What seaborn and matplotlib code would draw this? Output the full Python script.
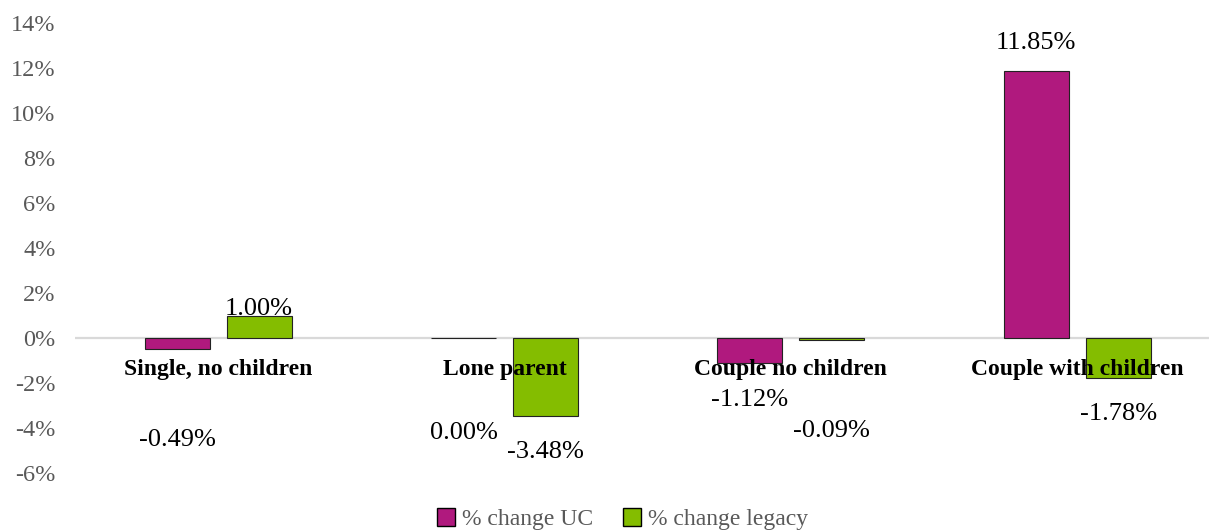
import matplotlib
matplotlib.use("Agg")
import matplotlib.pyplot as plt
from matplotlib.patches import Patch
import seaborn as sns
import pandas as pd

categories = ["Single, no children", "Lone parent", "Couple no children", "Couple with children"]
series_names = ["% change UC", "% change legacy"]
uc_values = [-0.49, 0.00, -1.12, 11.85]
legacy_values = [1.00, -3.48, -0.09, -1.78]
y_ticks = [-6, -4, -2, 0, 2, 4, 6, 8, 10, 12, 14]

# label placement (data-unit y of each value label centre), as in the original
uc_label_y = [-4.52, -4.22, -2.75, 13.1]
legacy_label_y = [1.3, -5.05, -4.12, -3.37]

colors = ["#B0197E", "#84BD00"]

df = pd.DataFrame({
    "category": categories * 2,
    "series": [series_names[0]] * 4 + [series_names[1]] * 4,
    "value": uc_values + legacy_values,
})

sns.set_theme(style="white")
plt.rcParams["font.family"] = ["Liberation Serif", "DejaVu Serif"]

fig = plt.figure(figsize=(12.09, 5.32), dpi=100)
ax = fig.add_axes([75 / 1209, 1 - 473 / 532, 1 - 75 / 1209, (473 - 23) / 532])

sns.barplot(data=df, x="category", y="value", hue="series", order=categories,
            hue_order=series_names, palette=colors, width=0.572, gap=0.206,
            edgecolor="#222222", linewidth=0.8, saturation=1, legend=False, ax=ax)

ax.axhline(0, color="#d9d9d9", lw=1.6, zorder=0.5)
ax.set_ylim(-6, 14)
ax.set_xlim(-0.5, 3.46)
ax.set_yticks(y_ticks)
ax.set_yticklabels([f"{v}%" for v in y_ticks], color="#595959", fontsize=17.5)
ax.tick_params(axis="y", length=0, pad=14)
ax.set_xticks([])
ax.set_xlabel("")
ax.set_ylabel("")
for s in ax.spines.values():
    s.set_visible(False)

# category labels
for i, c in enumerate(categories):
    ax.text(i, -1.4, c, ha="center", va="center", fontsize=17, fontweight="bold", color="black")

# value labels
label_sets = [(uc_values, uc_label_y), (legacy_values, legacy_label_y)]
for cont, (vals, ys) in zip(ax.containers, label_sets):
    for bar, v, yy in zip(cont.patches, vals, ys):
        cx = bar.get_x() + bar.get_width() / 2
        ax.text(cx, yy, f"{v:.2f}%", ha="center", va="center", fontsize=19, color="black")

handles = [Patch(facecolor=colors[0], edgecolor="black", linewidth=1),
           Patch(facecolor=colors[1], edgecolor="black", linewidth=1)]
leg = fig.legend(handles, series_names, loc="center", bbox_to_anchor=(0.515, 0.024),
                 ncol=2, frameon=False, fontsize=17, handlelength=0.75, handleheight=0.75,
                 handletextpad=0.3, columnspacing=1.3)
for t in leg.get_texts():
    t.set_color("#595959")

fig.savefig("out.png", dpi=100)
